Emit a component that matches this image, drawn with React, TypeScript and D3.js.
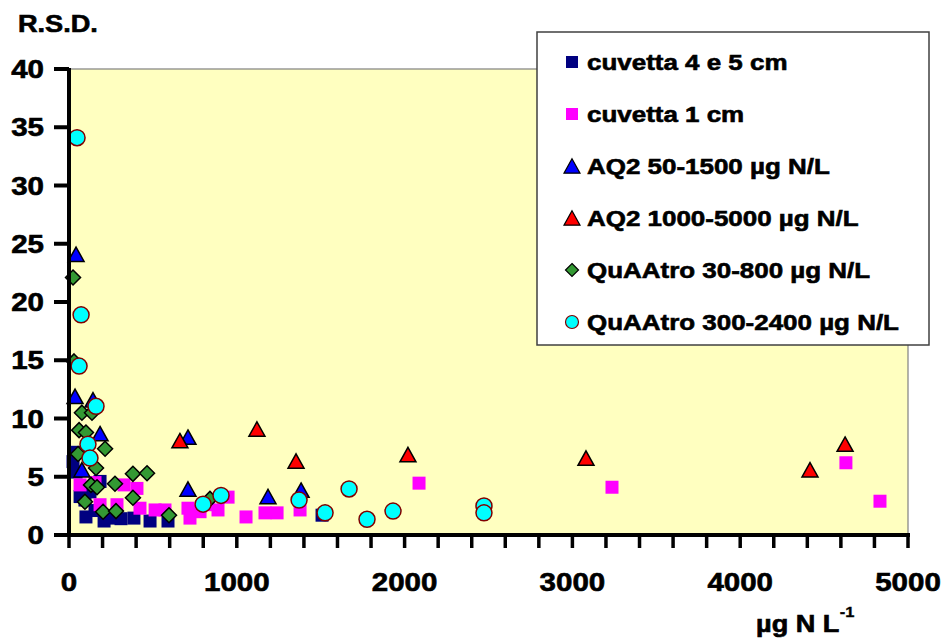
import * as d3 from "d3";

const W = 947;
const H = 641;
const PLOT = { left: 69, right: 908, top: 69, bottom: 535 };
const SX = 1.18; // the source chart's lettering is stretched sideways
const FONT = "'Liberation Sans', Arial, sans-serif";

const xLabels = [0, 1000, 2000, 3000, 4000, 5000];
const yLabels = [0, 5, 10, 15, 20, 25, 30, 35, 40];

// cuvetta 4 e 5 cm
const cuv45X = [36, 24, 42, 66, 95, 125, 185, 155, 101, 209, 250, 310, 387, 483, 590, 1508];
const cuv45Y = [7.1, 6.3, 5.4, 3.3, 3.0, 3.7, 4.6, 2.1, 1.55, 1.2, 1.45, 1.4, 1.45, 1.2, 1.2, 1.7];

// cuvetta 1 cm
const cuv1X = [66, 155, 185, 286, 328, 405, 423, 513, 572, 709, 721, 781, 828, 888, 948, 1055, 1168, 1240, 1377, 2086, 3236, 4630, 4833];
const cuv1Y = [4.3, 4.5, 2.6, 2.6, 4.3, 4.0, 2.3, 2.15, 2.15, 2.3, 1.45, 2.0, 2.6, 2.15, 3.25, 1.55, 1.9, 1.9, 2.15, 4.45, 4.1, 6.2, 2.9];

// AQ2 50-1500
const aqLowX = [42, 36, 143, 185, 77, 709, 709, 1186, 1383];
const aqLowY = [24.1, 11.9, 11.6, 8.7, 5.6, 8.4, 3.95, 3.3, 3.85];

// AQ2 1000-5000
const aqHighX = [661, 1120, 1353, 2020, 3081, 4416, 4625];
const aqHighY = [8.1, 9.1, 6.35, 6.9, 6.6, 5.6, 7.8];

// QuAAtro 30-800
const quLowX = [24, 30, 77, 137, 60, 101, 215, 54, 161, 131, 167, 274, 381, 465, 95, 381, 203, 280, 596, 840];
const quLowY = [22.1, 14.9, 10.5, 10.5, 9.0, 8.8, 7.4, 6.95, 5.75, 4.3, 4.1, 4.4, 5.25, 5.3, 2.85, 3.2, 2.0, 2.05, 1.7, 3.1];

// QuAAtro 300-2400
const quHighX = [48, 72, 60, 161, 113, 125, 799, 906, 1371, 1526, 1669, 1776, 1931, 2473, 2473];
const quHighY = [34.1, 18.9, 14.5, 11.05, 7.8, 6.6, 2.65, 3.4, 3.0, 1.9, 3.95, 1.35, 2.05, 2.5, 1.9];

type Shape = "square" | "triangle" | "diamond" | "circle";

const series = [
  { name: "cuvetta 4 e 5 cm", xs: cuv45X, ys: cuv45Y, shape: "square" as Shape, fill: "#000080", stroke: "none" },
  { name: "cuvetta 1 cm", xs: cuv1X, ys: cuv1Y, shape: "square" as Shape, fill: "#FF00FF", stroke: "none" },
  { name: "AQ2 50-1500 µg N/L", xs: aqLowX, ys: aqLowY, shape: "triangle" as Shape, fill: "#0000FF", stroke: "#000" },
  { name: "AQ2 1000-5000 µg N/L", xs: aqHighX, ys: aqHighY, shape: "triangle" as Shape, fill: "#FF0000", stroke: "#000" },
  { name: "QuAAtro 30-800 µg N/L", xs: quLowX, ys: quLowY, shape: "diamond" as Shape, fill: "#339933", stroke: "#000" },
  { name: "QuAAtro 300-2400 µg N/L", xs: quHighX, ys: quHighY, shape: "circle" as Shape, fill: "#00FFFF", stroke: "#800000" },
];

function markerPath(shape: Shape, s: number) {
  const h = s / 2;
  if (shape === "square") return `M${-h},${-h}H${h}V${h}H${-h}Z`;
  if (shape === "triangle") return `M0,${-h * 0.9}L${h},${h * 0.9}L${-h},${h * 0.9}Z`;
  if (shape === "diamond") return `M0,${-h}L${h},0L0,${h}L${-h},0Z`;
  return d3.arc()({ innerRadius: 0, outerRadius: h, startAngle: 0, endAngle: 2 * Math.PI }) ?? "";
}

const SIZES: Record<Shape, number> = { square: 13, triangle: 16, diamond: 15, circle: 16 };
const LEG_SIZES: Record<Shape, number> = { square: 12, triangle: 16, diamond: 13, circle: 13 };

function Label({ x, y, size, anchor = "start", children }: any) {
  return (
    <text
      transform={`translate(${x},${y}) scale(${SX},1)`}
      fontFamily={FONT}
      fontWeight="bold"
      fontSize={size}
      textAnchor={anchor}
      fill="#000"
      stroke="#000"
      strokeWidth={0.6}
    >
      {children}
    </text>
  );
}

export default function App() {
  const x = d3.scaleLinear().domain([0, 5000]).range([PLOT.left, PLOT.right]);
  const y = d3.scaleLinear().domain([0, 40]).range([PLOT.bottom, PLOT.top]);
  const minorX = d3.range(0, 5001, 200);

  return (
    <svg width={W} height={H} style={{ position: "absolute", left: 0, top: 0, background: "#fff" }}>
      <rect
        x={PLOT.left}
        y={PLOT.top}
        width={PLOT.right - PLOT.left}
        height={PLOT.bottom - PLOT.top}
        fill="#FFFFC0"
        stroke="#808080"
        strokeWidth={1.2}
      />

      {series.map((s) => (
        <g key={s.name}>
          {s.xs.map((v, i) => (
            <path
              key={i}
              d={markerPath(s.shape, SIZES[s.shape])}
              transform={`translate(${x(v)},${y(s.ys[i])})`}
              fill={s.fill}
              stroke={s.stroke}
              strokeWidth={s.stroke === "none" ? 0 : 1.5}
            />
          ))}
        </g>
      ))}

      {/* y axis */}
      <line x1={PLOT.left} x2={PLOT.left} y1={PLOT.top - 1} y2={PLOT.bottom + 2} stroke="#000" strokeWidth={4} />
      {yLabels.map((v) => (
        <g key={v}>
          <line x1={PLOT.left - 15} x2={PLOT.left} y1={y(v)} y2={y(v)} stroke="#000" strokeWidth={4} />
          <Label x={44} y={y(v) + 9} size={25} anchor="end">
            {v}
          </Label>
        </g>
      ))}

      {/* x axis */}
      <line x1={PLOT.left - 15} x2={PLOT.right + 2} y1={PLOT.bottom} y2={PLOT.bottom} stroke="#000" strokeWidth={4} />
      {minorX.map((v) => (
        <line key={v} x1={x(v)} x2={x(v)} y1={PLOT.bottom} y2={PLOT.bottom + 13} stroke="#000" strokeWidth={3.5} />
      ))}
      {xLabels.map((v) => (
        <Label key={v} x={x(v)} y={591} size={25} anchor="middle">
          {v}
        </Label>
      ))}

      <Label x={18} y={32} size={23}>
        R.S.D.
      </Label>
      <g transform={`translate(756,632) scale(${SX},1)`} stroke="#000" strokeWidth={0.6}>
        <text fontFamily={FONT} fontWeight="bold" fontSize={23} fill="#000">
          µg N L
        </text>
        <text x={71} y={-15} fontFamily={FONT} fontWeight="bold" fontSize={14} fill="#000" strokeWidth={0.3}>
          -1
        </text>
      </g>

      {/* legend */}
      <rect x={537} y={32} width={392} height={313} fill="#fff" stroke="#404040" strokeWidth={1.5} />
      {series.map((s, i) => {
        const cy = 62 + i * 52;
        return (
          <g key={s.name}>
            <path
              d={markerPath(s.shape, LEG_SIZES[s.shape])}
              transform={`translate(572,${cy})`}
              fill={s.fill}
              stroke={s.stroke}
              strokeWidth={s.stroke === "none" ? 0 : 1.2}
            />
            <Label x={587} y={cy + 8} size={22}>
              {s.name}
            </Label>
          </g>
        );
      })}
    </svg>
  );
}
